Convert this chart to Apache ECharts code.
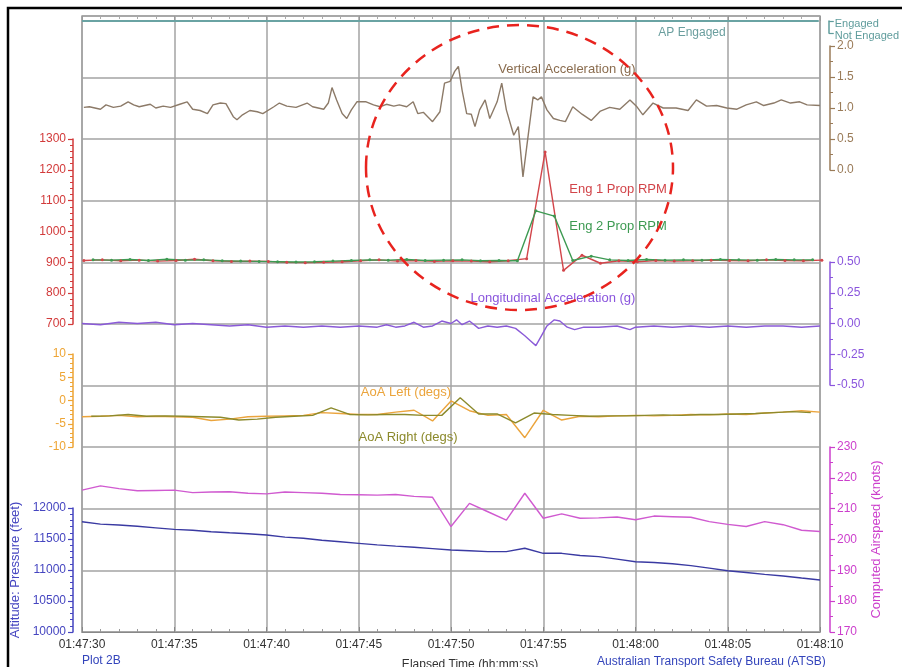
<!DOCTYPE html>
<html><head><meta charset="utf-8">
<script src="https://cdn.jsdelivr.net/npm/echarts@6/dist/echarts.min.js"></script>
<style>html,body{margin:0;padding:0;background:#fff}#c{width:902px;height:667px}</style>
</head><body><div id="c"></div><script>
// ---- data (time in seconds after 01:47:30) ----
const timeTicks = ['01:47:30','01:47:35','01:47:40','01:47:45','01:47:50','01:47:55','01:48:00','01:48:05','01:48:10'];
const apEngaged = [[0,1],[40,1]];
const vertAccel = [[0.1,1.01],[0.4,1.02],[1.0,0.98],[1.3,1.05],[1.7,1.01],[2.1,1.03],[2.5,1.10],[2.8,1.05],[3.1,1.02],[3.7,1.06],[4.0,1.00],[4.4,1.03],[4.8,1.01],[5.3,1.06],[5.7,1.10],[6.0,0.98],[6.4,0.96],[6.8,0.91],[7.1,1.05],[7.5,1.08],[7.8,1.07],[8.2,0.86],[8.4,0.81],[8.7,0.89],[9.1,0.96],[9.5,0.94],[9.8,0.91],[10.4,1.02],[10.7,1.08],[11.1,1.03],[11.6,1.01],[12.2,1.08],[12.5,1.02],[13.1,0.98],[13.35,1.08],[13.55,1.33],[13.8,1.13],[14.1,0.91],[14.35,0.83],[14.6,0.97],[14.9,1.10],[15.4,1.10],[15.8,1.05],[16.15,1.02],[16.5,1.06],[16.9,1.03],[17.2,1.05],[17.6,1.02],[17.95,1.10],[18.2,0.91],[18.5,0.93],[19.0,0.78],[19.4,0.94],[19.65,1.40],[19.95,1.43],[20.2,1.59],[20.4,1.67],[20.6,1.29],[20.85,0.91],[21.1,0.90],[21.3,0.70],[21.55,0.97],[21.85,1.13],[22.1,0.83],[22.5,1.10],[22.75,1.40],[23.0,0.97],[23.4,0.56],[23.65,0.70],[23.9,-0.11],[24.2,0.60],[24.45,1.18],[24.7,1.13],[24.9,1.18],[25.2,0.97],[25.55,0.83],[25.9,0.80],[26.2,0.78],[26.6,1.02],[27.1,0.90],[27.6,0.80],[28.1,0.95],[28.6,1.01],[29.15,0.98],[29.7,1.13],[30.05,1.03],[30.4,0.89],[30.95,1.08],[31.5,1.00],[32.2,1.00],[32.85,0.96],[33.3,1.13],[33.85,1.03],[34.4,1.04],[34.95,1.00],[35.5,0.98],[36.0,1.05],[36.55,1.10],[36.95,1.04],[37.5,1.08],[37.9,1.13],[38.4,1.08],[38.9,1.10],[39.3,1.05],[40.0,1.04]];
// Eng 1 sampled at whole seconds, Eng 2 at half seconds
const eng1Rpm = [906,908,905,907,904,906,910,905,903,904,903,900,899,900,902,905,908,904,906,903,905,904,902,905,912,1258,874,923,897,905,902,906,904,905,907,906,905,908,906,905,907];
const eng2Rpm = [908,907,909,906,910,907,908,905,904,903,902,901,902,904,906,908,907,909,906,907,908,905,906,905,1067,1050,906,920,908,906,909,907,908,907,909,908,907,909,908,908];
const longAccel = [[0,0.00],[1,-0.01],[2,0.01],[3,0.00],[4,0.01],[5,-0.01],[6,0.00],[7,-0.01],[8,-0.02],[9,-0.01],[10,-0.03],[11,-0.02],[12,-0.03],[13,-0.02],[14,-0.03],[15,-0.02],[16,-0.03],[16.5,-0.01],[17,-0.03],[17.5,-0.02],[18,0.01],[18.5,-0.03],[19,-0.02],[19.5,0.02],[20,0.00],[20.3,0.03],[20.6,-0.01],[21,0.02],[21.5,-0.04],[22,-0.02],[22.5,-0.03],[23,-0.02],[23.5,-0.04],[24,-0.10],[24.3,-0.14],[24.6,-0.18],[24.9,-0.10],[25.2,-0.02],[25.6,0.03],[25.9,0.02],[26.3,-0.03],[26.7,-0.05],[27.2,-0.03],[28,-0.03],[29,-0.02],[29.7,-0.05],[30,-0.03],[31,-0.02],[32,-0.03],[33,-0.02],[34,-0.03],[35,-0.02],[36,-0.03],[37,-0.02],[38,-0.02],[39,-0.03],[40,-0.02]];
// AoA Left at whole seconds, AoA Right at half seconds
const aoaLeft = [-3.5,-3.4,-3.2,-3.5,-3.4,-3.5,-3.6,-4.3,-4.0,-3.5,-3.4,-3.3,-3.2,-2.6,-2.8,-3.0,-3.0,-2.5,-2.1,-4.4,-0.1,-2.2,-3.2,-3.0,-8.0,-2.1,-4.2,-3.4,-3.5,-3.3,-3.2,-3.3,-3.2,-3.0,-3.1,-2.9,-3.0,-2.7,-2.5,-2.2,-2.5];
const aoaRight = [-3.4,-3.3,-3.0,-3.4,-3.3,-3.4,-3.5,-3.6,-4.2,-4.0,-3.6,-3.4,-3.2,-1.6,-3.0,-3.1,-3.0,-3.0,-3.2,-3.2,0.6,-2.9,-2.9,-4.8,-2.7,-3.0,-3.2,-3.4,-3.3,-3.3,-3.2,-3.1,-3.2,-3.0,-3.0,-2.9,-2.8,-2.6,-2.4,-2.6];
const airspeed = [216.0,217.4,216.5,215.8,215.9,216.0,215.2,215.4,215.5,215.0,214.8,215.4,215.2,215.0,214.6,214.5,214.4,214.6,214.0,213.7,204.2,211.7,209.0,206.3,215.0,206.9,208.3,206.9,207.0,207.3,206.4,207.6,207.4,207.2,205.8,204.9,204.2,205.8,204.8,203.0,202.6];
const altitude = [11779,11740,11725,11705,11680,11656,11640,11618,11600,11585,11565,11530,11511,11480,11455,11430,11405,11385,11366,11345,11323,11310,11296,11296,11350,11269,11269,11235,11215,11175,11134,11120,11100,11070,11030,10989,10960,10930,10903,10870,10839];

// ---- layout ----
const FONT = 'Liberation Sans, Arial, sans-serif';
const PL = 82, PW = 738;
const GRID = '#a3a3a3';
function band(top, bottom){ return {left:PL, width:PW, top:top, height:bottom-top}; }
const grids = [
  {left:PL, width:PW, top:16, height:616, show:true, borderColor:GRID, borderWidth:1.5},
  band(21,33), band(46,170), band(139,324), band(262,385), band(354,447), band(447,632), band(508,632)
];
const xAxes = [{
  type:'value', gridIndex:0, min:0, max:40, interval:5,
  axisLine:{show:true, lineStyle:{color:'#888', width:1}},
  axisTick:{show:true, inside:true, length:5, lineStyle:{color:'#888'}},
  minorTick:{show:true, splitNumber:5, length:3, lineStyle:{color:'#999'}},
  splitLine:{show:true, lineStyle:{color:GRID, width:1.5}},
  axisLabel:{margin:7, fontSize:12, fontFamily:FONT, color:'#333', formatter:(v)=>timeTicks[Math.round(v/5)]}
}, {
  type:'value', gridIndex:0, position:'top', min:0, max:40, interval:5,
  axisLine:{show:false}, axisLabel:{show:false}, splitLine:{show:false},
  axisTick:{show:true, inside:true, length:5, lineStyle:{color:'#999'}},
  minorTick:{show:true, splitNumber:5, length:3, lineStyle:{color:'#aaa'}}
}];
for (let i=1;i<grids.length;i++) xAxes.push({type:'value', gridIndex:i, min:0, max:40, show:false});
const X = (gi)=> gi===0 ? 0 : gi+1;

function yAx(gi, pos, min, max, interval, color, split, fmt, extra){
  return Object.assign({
    type:'value', gridIndex:gi, position:pos, offset: pos==='left'?9:10, min:min, max:max, interval:interval,
    axisLine:{show:true, onZero:false, lineStyle:{color:color, width:1.5}},
    axisTick:{show:true, inside:false, length:5, lineStyle:{color:color, width:1.2}},
    minorTick:{show:split>1, splitNumber:split, length:3, lineStyle:{color:color}},
    splitLine:{show:false},
    axisLabel:{margin:7, fontSize:12, fontFamily:FONT, color:color, formatter:fmt}
  }, extra||{});
}
const C = {ap:'#5f9c9c', va:'#9a7b58', rpm:'#d23a3a', la:'#8a55dd', aoa:'#eea535', as:'#cc3fcc', alt:'#4545c0'};
const yAxes = [
  {type:'value', gridIndex:0, min:0, max:10, interval:1, axisLine:{show:false}, axisTick:{show:false}, axisLabel:{show:false}, splitLine:{show:true, lineStyle:{color:GRID, width:1.5}}},
  yAx(1,'right',0,1,1,C.ap,1,(v)=>v===1?'Engaged':'Not Engaged',{axisLabel:{margin:6,fontSize:11,fontFamily:FONT,color:C.ap,verticalAlign:'top',lineHeight:6,formatter:(v)=>v===1?'Engaged':'Not Engaged'}}),
  yAx(2,'right',0,2,0.5,C.va,2,(v)=>v.toFixed(1)),
  yAx(3,'left',700,1300,100,C.rpm,5,(v)=>String(v)),
  yAx(4,'right',-0.5,0.5,0.25,C.la,2,(v)=>v.toFixed(2)),
  yAx(5,'left',-10,10,5,C.aoa,5,(v)=>String(v)),
  yAx(6,'right',170,230,10,C.as,2,(v)=>String(v),{name:'Computed Airspeed (knots)', nameLocation:'middle', nameRotate:90, nameGap:40, nameTextStyle:{color:C.as, fontSize:13, fontFamily:FONT}}),
  yAx(7,'left',10000,12000,500,C.alt,5,(v)=>String(v),{name:'Altitude: Pressure (feet)', nameLocation:'middle', nameRotate:90, nameGap:50, nameTextStyle:{color:C.alt, fontSize:13, fontFamily:FONT}})
];

function line(gi, data, color, extra){
  return Object.assign({type:'line', xAxisIndex:X(gi), yAxisIndex:gi, data:data, showSymbol:false, symbol:'none', clip:false,
    lineStyle:{color:color, width:1.4}, itemStyle:{color:color}, animation:false, silent:true, z:5}, extra||{});
}
const series = [
  line(1, apEngaged, '#6aa3a3', {lineStyle:{color:'#6aa3a3', width:2}}),
  line(2, vertAccel, '#8c7a68'),
  line(3, eng1Rpm.map((v,i)=>[i+0.1, v]), '#d2454a', {symbol:'circle', symbolSize:3, showSymbol:true}),
  line(3, eng2Rpm.map((v,i)=>[i+0.6, v]), '#3d9a52', {symbol:'circle', symbolSize:3, showSymbol:true}),
  line(4, longAccel, '#8a5ad8'),
  line(5, aoaLeft.map((v,i)=>[i, v]), '#eba43c'),
  line(5, aoaRight.map((v,i)=>[i+0.5, v]), '#8c8a2c'),
  line(6, airspeed.map((v,i)=>[i, v]), '#d05ad0'),
  line(7, altitude.map((v,i)=>[i, v]), '#3a3aa2')
];

function txt(x, y, s, color, align, size){
  return {type:'text', x:x, y:y, z:20, style:{text:s, fill:color, font:(size||12)+'px '+FONT, textAlign:align||'center', textVerticalAlign:'middle'}};
}
const graphic = [
  {type:'rect', shape:{x:8, y:8, width:910, height:680}, style:{fill:'none', stroke:'#000', lineWidth:2.5}, z:1},
  txt(692, 33, 'AP Engaged', '#6a9e9e'),
  txt(567, 69, 'Vertical Acceleration (g)', '#8a6c4e', 'center', 13),
  txt(618, 189, 'Eng 1 Prop RPM', '#d2454a', 'center', 13),
  txt(618, 226, 'Eng 2 Prop RPM', '#3d9a52', 'center', 13),
  txt(553, 298, 'Longitudinal Acceleration (g)', '#8a55dd', 'center', 13),
  txt(406, 392, 'AoA Left (degs)', '#eba43c', 'center', 13),
  txt(408, 437, 'AoA Right (degs)', '#8c8a2c', 'center', 13),
  txt(82, 661, 'Plot 2B', '#3344bb', 'left'),
  txt(470, 665, 'Elapsed Time (hh:mm:ss)', '#333', 'center'),
  txt(597, 662, 'Australian Transport Safety Bureau (ATSB)', '#3344bb', 'left'),
  {type:'ellipse', shape:{cx:519.5, cy:167.5, rx:153.5, ry:142.5}, style:{fill:'none', stroke:'#e8231e', lineWidth:2.5, lineDash:[12,8]}, z:30}
];

const chart = echarts.init(document.getElementById('c'), null, {renderer:'canvas'});
chart.setOption({animation:false, backgroundColor:'#fff', grid:grids, xAxis:xAxes, yAxis:yAxes, series:series, graphic:graphic});
</script></body></html>
